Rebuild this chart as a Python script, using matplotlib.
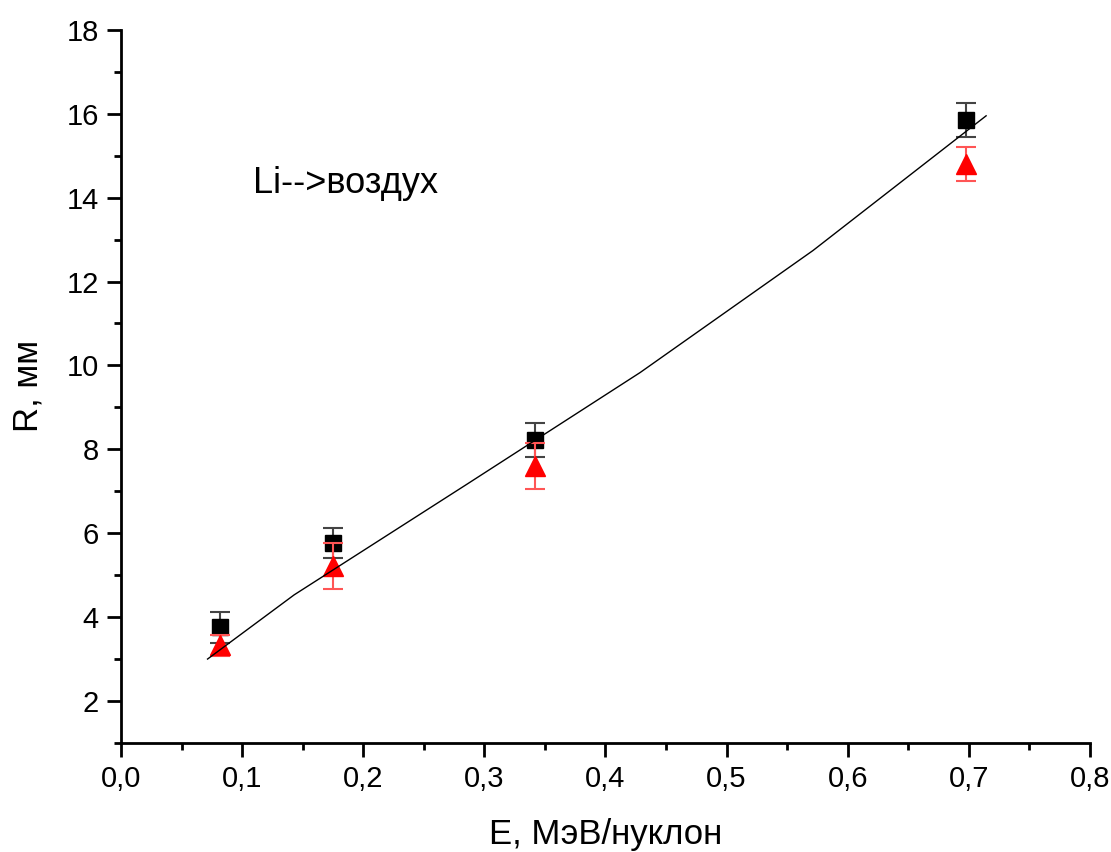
import matplotlib
matplotlib.use("Agg")
import matplotlib.pyplot as plt
from matplotlib.ticker import MultipleLocator, FuncFormatter

plt.rcParams['font.family'] = ['Liberation Sans', 'DejaVu Sans']

# measured ranges, black squares
E_black = [0.082, 0.175, 0.342, 0.698]
R_black = [3.76, 5.77, 8.22, 15.85]
err_black = [0.37, 0.36, 0.41, 0.40]

# red triangles
E_red = [0.082, 0.175, 0.342, 0.698]
R_red = [3.33, 5.22, 7.60, 14.80]
err_red = [0.25, 0.55, 0.54, 0.40]

# calculated curve
E_calc = [0.0714, 0.1429, 0.2857, 0.4286, 0.5714, 0.7143]
R_calc = [3.0, 4.53, 7.17, 9.83, 12.74, 15.95]

fig = plt.figure(figsize=(11.11, 8.52), dpi=100)
ax = fig.add_axes([0.109, 0.128, 0.872, 0.837])

ax.errorbar(E_black, R_black, yerr=err_black, fmt='s', color='black',
            ecolor='#444444', markersize=11, capsize=7, elinewidth=1.5,
            capthick=1.5, zorder=3)
ax.errorbar(E_red, R_red, yerr=err_red, fmt='^', color='red',
            ecolor='#ff5555', markersize=14, capsize=7, elinewidth=1.5,
            capthick=1.5, zorder=4)
ax.plot(E_calc, R_calc, color='black', linewidth=1.0, zorder=5)

ax.text(0.109, 14.34, 'Li-->воздух', fontsize=26, va='center', ha='left')

ax.set_xlim(0.0, 0.8)
ax.set_ylim(1, 18)
ax.xaxis.set_major_locator(MultipleLocator(0.1))
ax.xaxis.set_minor_locator(MultipleLocator(0.05))
ax.yaxis.set_major_locator(MultipleLocator(2))
ax.yaxis.set_minor_locator(MultipleLocator(1))
ax.set_yticks([2, 4, 6, 8, 10, 12, 14, 16, 18])
ax.xaxis.set_major_formatter(FuncFormatter(lambda v, p: f"{v:.1f}".replace('.', ',')))

ax.spines['top'].set_visible(False)
ax.spines['right'].set_visible(False)
ax.spines['left'].set_linewidth(2)
ax.spines['bottom'].set_linewidth(2)
ax.tick_params(which='major', direction='out', length=10, width=2, labelsize=21, pad=6)
ax.tick_params(which='minor', direction='out', length=5, width=2)

ax.set_xlabel('E, МэВ/нуклон', fontsize=25, labelpad=18)
ax.set_ylabel('R, мм', fontsize=25, labelpad=16)

fig.savefig('out.png', dpi=100)
